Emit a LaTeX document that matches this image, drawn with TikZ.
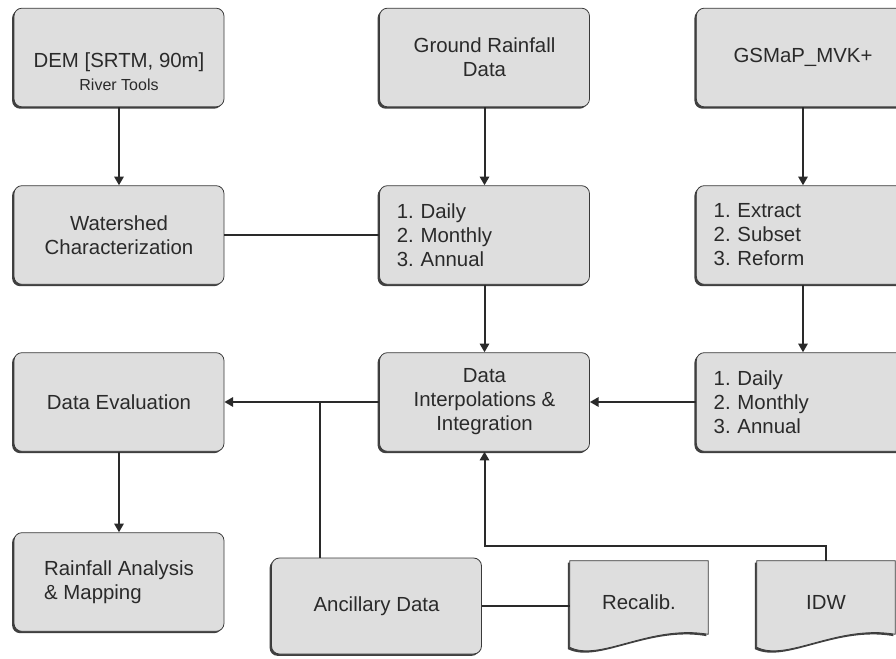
\documentclass[tikz,border=0pt]{standalone}
\usepackage{fontspec}
\setmainfont{Liberation Sans}
\usetikzlibrary{arrows.meta,shadows,calc}
\definecolor{boxfill}{HTML}{DEDEDE}
\definecolor{edge}{HTML}{3A3A3A}
\definecolor{ink}{HTML}{2A2A2A}
\tikzset{
  sh/.style={drop shadow={shadow xshift=-1.4pt,shadow yshift=-1.4pt,fill=black!75,opacity=1}},
  box/.style={sh,draw=edge,line width=0.6pt,fill=boxfill,rounded corners=6pt,
    minimum width=157.5pt,minimum height=74pt,align=center,text=ink,
    font=\fontsize{15.3}{18}\selectfont},
  listbox/.style={box,align=left,text width=131.5pt,inner xsep=13pt},
  docbox/.style={sh,draw=edge,line width=0.6pt,fill=boxfill},
  doctext/.style={minimum width=103.5pt,minimum height=64.5pt,text=ink,
    font=\fontsize{15.3}{18}\selectfont},
  conn/.style={draw=ink,line width=1.5pt},
  arr/.style={conn,-{Triangle[length=6.5pt,width=7pt]}},
}
\begin{document}
\begin{tikzpicture}[x=0.75pt,y=-0.75pt]
\useasboundingbox (0,0) rectangle (896,659);
\clip (0,0) rectangle (896,659);
\fill[white] (0,0) rectangle (896,659);
% row 1
\node[box] (dem) at (119,57.5) {};
\node[text=ink,align=center,font=\fontsize{15.3}{18}\selectfont] (demtxt) at (119,72)
  {DEM [SRTM, 90m]\\[-1pt]{\fontsize{12}{14}\selectfont River Tools\hspace{12pt}}};
\node[box] (ground) at (484.5,57.5) {Ground Rainfall\\Data};
\node[box,minimum width=160pt] (gsmap) at (803,57.5) {GSMaP\_MVK+};
% row 2
\node[box] (water) at (119,235) {Watershed\\Characterization};
\node[listbox] (list1) at (484.5,235) {1.\ Daily\\2.\ Monthly\\3.\ Annual};
\node[listbox,minimum width=160pt,text width=134pt] (extract) at (803,235) {1.\ Extract\\2.\ Subset\\3.\ Reform};
% row 3
\node[box] (eval) at (119,402) {Data Evaluation};
\node[box] (interp) at (484.5,402) {Data\\Interpolations \&\\Integration};
\node[listbox,minimum width=160pt,text width=134pt] (list2) at (803,402) {1.\ Daily\\2.\ Monthly\\3.\ Annual};
% row 4
\node[box,align=left] (rain) at (119,582) {Rainfall Analysis\\\& Mapping};
\node[box,minimum height=72pt] (anc) at (376.5,606) {Ancillary Data};
% documents
\node[doctext] (recalib) at (639,604) {};
\draw[docbox] (recalib.north west) -- (recalib.north east) -- ([yshift=9.75pt]recalib.south east)
  .. controls +(-58,-10) and +(30,15) .. (recalib.south west) -- cycle;
\node[text=ink,font=\fontsize{15.3}{18}\selectfont] (recalibtxt) at ([yshift=1pt]recalib.center) {Recalib.};
\node[doctext] (idw) at (826,604) {};
\draw[docbox] (idw.north west) -- (idw.north east) -- ([yshift=9.75pt]idw.south east)
  .. controls +(-58,-10) and +(30,15) .. (idw.south west) -- cycle;
\node[text=ink,font=\fontsize{15.3}{18}\selectfont] (idwtxt) at ([yshift=1pt]idw.center) {IDW};
% connectors
\draw[arr] (dem.south) -- (water.north);
\draw[arr] (ground.south) -- (list1.north);
\draw[arr] (gsmap.south) -- (extract.north);
\draw[conn] (water.east) -- (list1.west);
\draw[arr] (list1.south) -- (interp.north);
\draw[arr] (extract.south) -- (list2.north);
\draw[arr] (list2.west) -- (interp.east);
\draw[arr] (interp.west) -- (eval.east);
\coordinate (j) at (320,402);
\draw[conn] (j |- anc.north) -- (j);
\draw[arr] (eval.south) -- (rain.north);
\draw[conn] (anc.east) -- (anc.east -| recalib.west);
\coordinate (k) at (826,546);
\draw[arr] (idw.north) -- (k) -| (interp.south);
\end{tikzpicture}
\end{document}
